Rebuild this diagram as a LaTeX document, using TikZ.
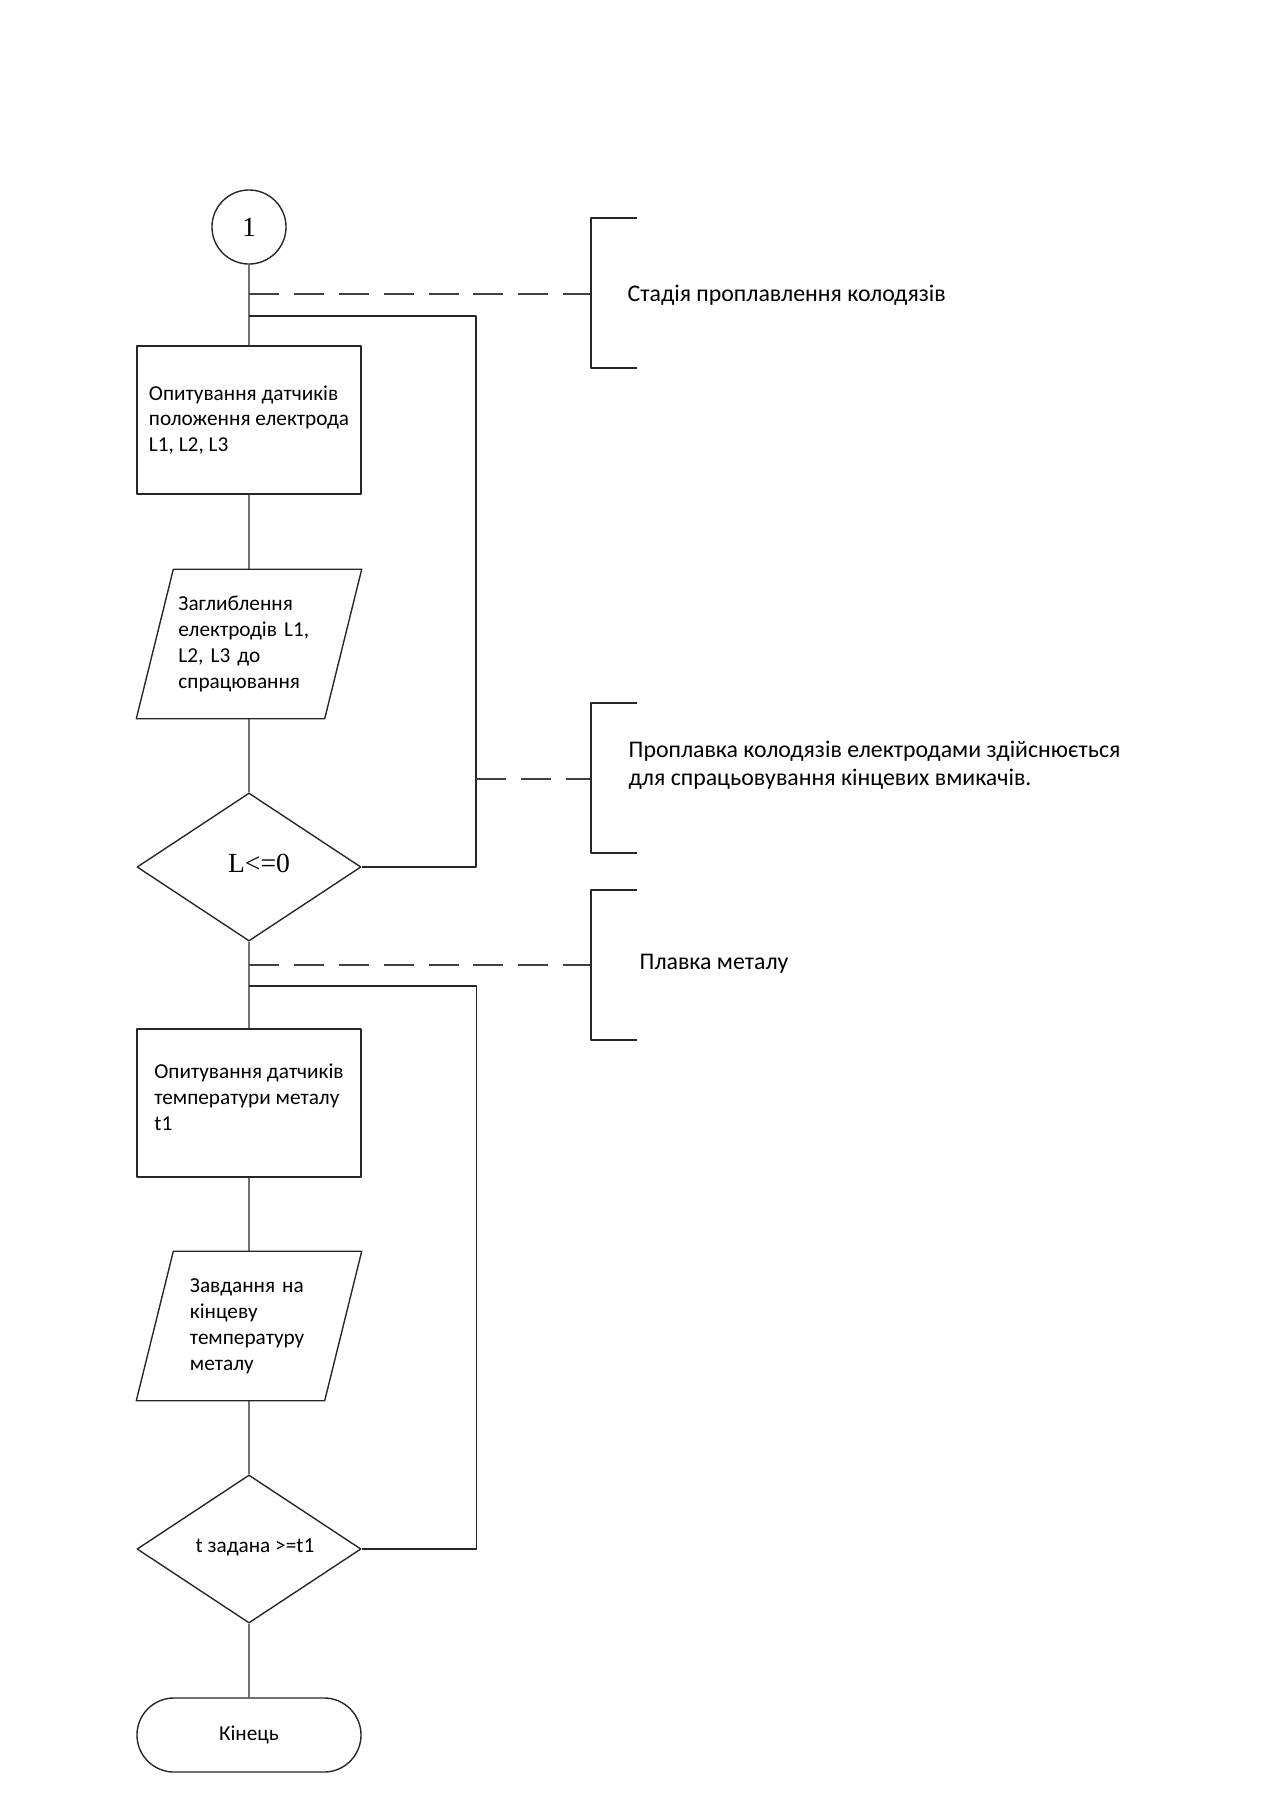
\documentclass[tikz,border=0pt]{standalone}
\usepackage{fontspec}
\setmainfont{Carlito}
\newfontfamily\timesfont{Liberation Serif}
\usetikzlibrary{shapes.geometric,shapes.misc}
\begin{document}
\begin{tikzpicture}[x=0.47pt, y=-0.47pt, line join=round, line width=0.65pt,
  font=\fontsize{10}{12.2}\selectfont,
  lin/.style={draw=black!85},
  blok/.style={lin, rectangle, minimum width=105.3pt, minimum height=69.6pt, align=left, inner sep=0pt},
  vvod/.style={rectangle, minimum width=105.3pt, minimum height=69.6pt, align=left, inner sep=0pt},
  umova/.style={lin, diamond, minimum width=105.3pt, minimum height=69.6pt, inner sep=0pt},
  kinec/.style={lin, rounded rectangle, minimum width=105.3pt, minimum height=34.8pt, inner sep=0pt},
  shtrikh/.style={draw=black!75, dash pattern=on 14.1pt off 7pt},
  poyasn/.style={anchor=west, align=left, font=\fontsize{11.2}{13.2}\selectfont, inner sep=0pt}]
  \useasboundingbox (0,0) rectangle (1265,1809);
  % stage 1
  \node[lin, circle, minimum size=34.8pt, inner sep=0pt,
    font=\timesfont\fontsize{13}{15}\selectfont] (c1) at (249,227) {1};
  \node[blok] (b1) at (249,420) {Опитування датчиків\\положення електрода\\L1, L2, L3};
  \node[vvod, text width=66.3pt] (p1) at (249,644) {Заглиблення\\електродів L1,\\L2, L3 до\\спрацювання};
  \draw[lin] ([xshift=17.4pt]p1.north west) -- (p1.north east) -- ([xshift=-17.4pt]p1.south east) -- (p1.south west) -- cycle;
  \node[umova, label={[font=\timesfont\fontsize{13}{15}\selectfont, xshift=4.7pt, yshift=1.9pt]center:L<=0}] (u1) at (249,867) {};
  % stage 2
  \node[blok, text depth=5.6pt] (b2) at (249,1103) {Опитування датчиків\\температури металу\\t1};
  \node[vvod, text width=55.5pt] (p2) at (249,1326) {Завдання на\\кінцеву\\температуру\\металу};
  \draw[lin] ([xshift=17.4pt]p2.north west) -- (p2.north east) -- ([xshift=-17.4pt]p2.south east) -- (p2.south west) -- cycle;
  \node[umova, label={[xshift=2.8pt, yshift=0.9pt]center:t задана >=t1}] (u2) at (249,1549) {};
  \node[kinec] (k1) at (249,1735) {Кінець};
  \coordinate (v1) at (249,316);
  \coordinate (v2) at (249,986);
  \coordinate (s1) at (249,294);
  \coordinate (s3) at (249,965);
  \coordinate (r1) at (476,779);
  \coordinate (d1) at (591,294);
  \coordinate (d2) at (591,779);
  \coordinate (d3) at (591,965);
  \draw[lin] (c1) -- (b1) -- (p1) -- (u1) -- (b2) -- (p2) -- (u2) -- (k1);
  \draw[lin] (u1.east) -| (r1) |- (v1);
  \draw[lin] (u2.east) -- ++(115,0) |- (v2);
  % comments on the right
  \draw[shtrikh] (s1) -- (d1);
  \draw[shtrikh] (r1) -- (d2);
  \draw[shtrikh] (s3) -- (d3);
  \draw[lin] (637,218) -- (591,218) -- (591,368) -- (637,368);
  \draw[lin] (637,703) -- (591,703) -- (591,853) -- (637,853);
  \draw[lin] (637,890) -- (591,890) -- (591,1040) -- (637,1040);
  \node[poyasn] (t1) at (627,295) {Стадія проплавлення колодязів};
  \node[poyasn] (t2) at (628,765) {Проплавка колодязів електродами здійснюється\\для спрацьовування кінцевих вмикачів.};
  \node[poyasn] (t3) at (639,964) {Плавка металу};
\end{tikzpicture}
\end{document}
